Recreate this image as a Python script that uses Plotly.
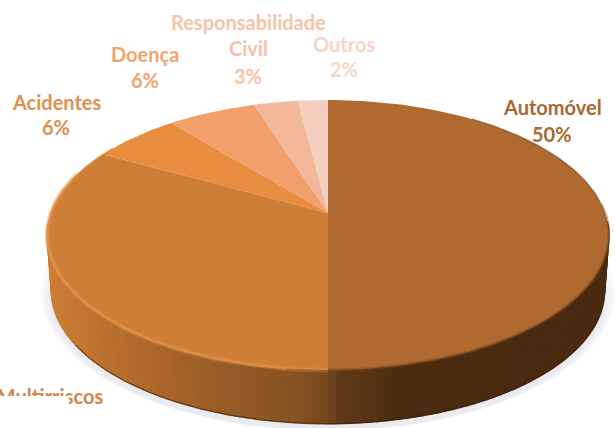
import numpy as np
import plotly.graph_objects as go

categories = ["Outros", "Responsabilidade Civil", "Doença", "Acidentes", "Multirriscos", "Automóvel"]
values = [2, 3, 6, 6, 33, 50]
slice_colors = ["#F4CFBF", "#F2B899", "#F2A06B", "#E88D3F", "#CE7F37", "#B06A2F"]

# label lines: text, x, y, colour
auto_label = [("Automóvel", 552, 107), ("50%", 552, 134)]
acid_label = [("Acidentes", 57, 102), ("6%", 56, 127)]
doenca_label = [("Doença", 145, 54), ("6%", 145, 80)]
resp_label = [("Responsabilidade", 248, 22), ("Civil", 248, 48), ("3%", 248, 76)]
outros_label = [("Outros", 344, 44), ("2%", 344, 69)]
label_sets = [(auto_label, "#A9682F"), (acid_label, "#DF9050"), (doenca_label, "#F0A470"),
              (resp_label, "#F5C4A8"), (outros_label, "#F6D5C8")]

side_stops_x = [40, 100, 170, 240, 300, 328, 340, 400, 615]
side_stops_rgb = [(208, 127, 56), (188, 114, 47), (168, 100, 42), (147, 90, 39), (133, 82, 33),
                  (117, 70, 30), (96, 58, 24), (76, 44, 16), (74, 42, 16)]

CX, CY, RX, RY, K = 328.0, 213.0, 277.0, 131.4, 0.163
BASE_CY, BASE_SCALE = 269.0, 0.985


def project(p, cy=CY, scale=1.0):
    th = 2 * np.pi * np.asarray(p, dtype=float) / 100.0
    u, v = np.sin(th), np.cos(th)
    w = 1 + K * v
    return CX + scale * RX * u / w, cy - scale * RY * v / w


fig = go.Figure()


def poly(x, y, color, line=0.0):
    fig.add_trace(go.Scatter(x=list(x), y=list(y), mode="lines", fill="toself", fillcolor=color,
                             line=dict(color=color, width=line), hoverinfo="skip", showlegend=False))


def arc(p0, p1, color, width, cy=CY, scale=1.0):
    x, y = project(np.linspace(p0, p1, 70), cy, scale)
    fig.add_trace(go.Scatter(x=x, y=y, mode="lines", line=dict(color=color, width=width),
                             hoverinfo="skip", showlegend=False))


# soft shadow below the disc
ring = np.linspace(0, 100, 241)
for i in range(7):
    sx, sy = project(ring, BASE_CY + 1 + i * 0.8, BASE_SCALE + 0.006 * (6 - i) + 0.004)
    poly(sx, sy, "rgba(160,178,195,0.035)")

# side wall, shaded along x
ps = np.linspace(26, 74, 121)
tx, ty = project(ps)
bx, by = project(ps, BASE_CY, BASE_SCALE)
rx_i = lambda v, n: np.interp(v, side_stops_x, [c[n] for c in side_stops_rgb])
for i in range(len(ps) - 1):
    mid = (tx[i] + tx[i + 1]) / 2
    col = "rgb(%d,%d,%d)" % (rx_i(mid, 0), rx_i(mid, 1), rx_i(mid, 2))
    poly([tx[i], tx[i + 1], bx[i + 1], bx[i]], [ty[i], ty[i + 1], by[i + 1], by[i]], col, 1.6)
arc(50, 66, "#5A3414", 1.0, BASE_CY, BASE_SCALE)
arc(29, 50, "#3C220C", 1.0, BASE_CY, BASE_SCALE)

# top face: starts at Automóvel and runs clockwise; others fill back up to 100
order = [5, 4, 3, 2, 1, 0]
start = 0.0
for idx in order:
    end = start + values[idx]
    x, y = project(np.linspace(start, end, max(int(values[idx] * 3), 8)))
    poly(np.r_[CX, x, CX], np.r_[CY, y, CY], slice_colors[idx])
    start = end

# bevel highlights round the rim
arc(50, 80, "rgba(226,146,74,0.35)", 5.0)
arc(52, 78, "rgba(227,147,73,0.8)", 2.2)
arc(78, 84, "rgba(232,140,62,0.7)", 1.5)
arc(24, 50, "rgba(122,76,34,0.45)", 3.0)
arc(10, 24, "rgba(88,52,22,0.45)", 1.6)

# Multirriscos label, partly hidden by a white patch in the original
fig.add_trace(go.Scatter(x=[50], y=[399], mode="text", text=["Multirriscos"],
                         textfont=dict(family="Lato", size=20, color="#CF864A"),
                         hoverinfo="skip", showlegend=False))
fig.add_shape(type="rect", x0=0, x1=69, y0=396, y1=428, fillcolor="white", line_width=0, layer="above")

for lines, col in label_sets:
    for text, x, y in lines:
        fig.add_annotation(x=x, y=y, text=f"<b>{text}</b>", showarrow=False, xanchor="center", yanchor="middle",
                           font=dict(family="Lato", size=20, color=col))

fig.update_traces(textfont_weight="bold", selector=dict(mode="text"))
fig.update_layout(width=615, height=428, margin=dict(l=0, r=0, t=0, b=0), paper_bgcolor="white",
                  plot_bgcolor="white", showlegend=False,
                  xaxis=dict(range=[0, 615], visible=False, fixedrange=True),
                  yaxis=dict(range=[428, 0], visible=False, fixedrange=True))
fig.write_html("out.html", config=dict(displayModeBar=False),
               post_script="document.body.style.margin='0';document.body.style.overflow='hidden';")
